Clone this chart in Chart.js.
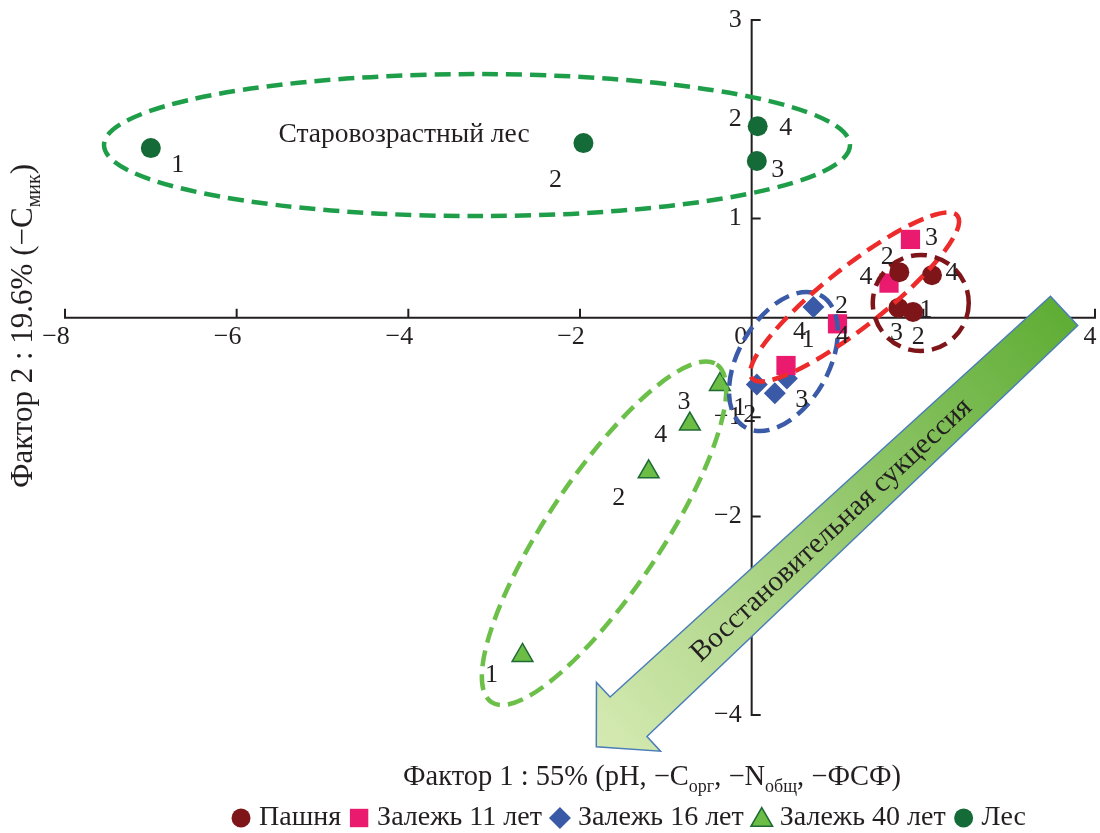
<!DOCTYPE html>
<html><head><meta charset="utf-8">
<script src="https://cdn.jsdelivr.net/npm/chart.js@4.4.0/dist/chart.umd.min.js"></script>
<style>html,body{margin:0;padding:0;background:#fff;overflow:hidden;}#wrap{position:relative;width:1100px;height:833px;}canvas{display:block;}</style>
</head><body><div id="wrap"><canvas id="c" width="1100" height="833"></canvas></div>
<script>
// ---------- DATA ----------
const seriesNames = ['Пашня', 'Залежь 11 лет', 'Залежь 16 лет', 'Залежь 40 лет', 'Лес'];
const pashnyaX = [1.88, 1.72, 1.71, 2.10];
const pashnyaY = [0.06, 0.46, 0.10, 0.43];
const zalezh11X = [0.40, 1.00, 1.85, 1.60];
const zalezh11Y = [-0.48, -0.06, 0.79, 0.35];
const zalezh16X = [0.06, 0.27, 0.41, 0.72];
const zalezh16Y = [-0.67, -0.76, -0.61, 0.11];
const zalezh40X = [-2.67, -1.20, -0.37, -0.72];
const zalezh40Y = [-3.40, -1.55, -0.67, -1.07];
const lesX = [-7.00, -1.96, 0.06, 0.07];
const lesY = [1.71, 1.76, 1.58, 1.93];
const pointLabels = ['1', '2', '3', '4'];
const extraLabel = '4';
const xTicks = [-8, -6, -4, -2, 0, 2, 4];
const yTicks = [3, 2, 1, 0, -1, -2, -3, -4];
const xTitleParts = [['Фактор 1 : 55% (pH, −C', 0], ['орг', 1], [', −N', 0], ['общ', 1], [', −ФСФ)', 0]];
const yTitleParts = [['Фактор 2 : 19.6% (−C', 0], ['мик', 1], [')', 0]];
const forestText = 'Старовозрастный лес';
const arrowText = 'Восстановительная сукцессия';

// ---------- STYLE ----------
const INK = '#231F20';
const FONT = '"Liberation Serif", "Times New Roman", serif';
const colors = ['#7E1518', '#EA1B6F', '#3A5AA8', '#6CBD45', '#156B37'];
const styles = ['circle', 'rect', 'rectRot', 'triangle', 'circle'];
const radii = [10, 13.6, 11, 12, 10];
const labelOffsets = [
  [[13, -2], [-12, -15], [-2, 25], [20, -2]],
  [[22, -25], [4, -18], [21, -1], [-23, -6]],
  [[-17, 24], [-25, 22], [15, 22], [-14, 25]],
  [[-31, 20], [-30, 26], [-36, 18], [-29, 11]],
  [[27, 17], [-28, 37], [21, 9], [28, 2]]
];
const extraLabelPos = {ds: 1, i: 1, dx: 5, dy: 12};
const ellipses = [
  {x: -3.20, y: 1.74, a: 373, b: 71, rot: 0, color: '#1F9E4A'},
  {x: -1.72, y: -2.17, a: 203, b: 57, rot: -56.3, color: '#6CC04A'},
  {x: 0.37, y: -0.44, a: 76, b: 45, rot: -60, color: '#3B5BA8'},
  {x: 1.20, y: 0.21, a: 131, b: 30, rot: -38.3, color: '#EE2B2B'},
  {x: 1.97, y: 0.15, a: 48, b: 48, rot: 0, color: '#7E1518'}
];
const arrow = {fromX: 3.64, fromY: 0.07, toX: -1.81, toY: -4.32, tailHalf: 20, neckHalf: 27, headHalf: 47, headLen: 44};

function pts(xs, ys) { return xs.map((v, i) => ({x: v, y: ys[i]})); }
const allX = [pashnyaX, zalezh11X, zalezh16X, zalezh40X, lesX];
const allY = [pashnyaY, zalezh11Y, zalezh16Y, zalezh40Y, lesY];

function fmt(v) { return v < 0 ? '−' + Math.abs(v) : String(v); }

function marker(ctx, style, x, y, r, fill, stroke, bw) {
  ctx.beginPath();
  if (style === 'circle') ctx.arc(x, y, r, 0, Math.PI * 2);
  else if (style === 'rect') { const h = r * Math.SQRT1_2; ctx.rect(x - h, y - h, 2 * h, 2 * h); }
  else if (style === 'rectRot') { ctx.moveTo(x - r, y); ctx.lineTo(x, y - r); ctx.lineTo(x + r, y); ctx.lineTo(x, y + r); ctx.closePath(); }
  else if (style === 'triangle') {
    for (let k = 0; k < 3; k++) { const a = k * 2 * Math.PI / 3; const px = x + Math.sin(a) * r, py = y - Math.cos(a) * r; k ? ctx.lineTo(px, py) : ctx.moveTo(px, py); }
    ctx.closePath();
  }
  ctx.fillStyle = fill; ctx.fill();
  if (bw) { ctx.lineWidth = bw; ctx.strokeStyle = stroke; ctx.stroke(); }
}

function drawParts(ctx, parts, x, y, size, align) {
  const sub = Math.round(size * 0.64);
  let w = 0;
  parts.forEach(p => { ctx.font = (p[1] ? sub : size) + 'px ' + FONT; w += ctx.measureText(p[0]).width; });
  let cx = align === 'center' ? x - w / 2 : x;
  ctx.textAlign = 'left'; ctx.textBaseline = 'alphabetic';
  parts.forEach(p => {
    ctx.font = (p[1] ? sub : size) + 'px ' + FONT;
    ctx.fillText(p[0], cx, y + (p[1] ? size * 0.25 : 0));
    cx += ctx.measureText(p[0]).width;
  });
}

const decor = {
  id: 'decor',
  beforeDatasetsDraw(chart) {
    const {ctx} = chart; const xs = chart.scales.x, ys = chart.scales.y;
    const x0 = xs.getPixelForValue(0), y0 = ys.getPixelForValue(0);
    ctx.save();
    ctx.strokeStyle = INK; ctx.lineWidth = 2; ctx.lineCap = 'square';
    ctx.beginPath();
    ctx.moveTo(xs.getPixelForValue(xTicks[0]), y0); ctx.lineTo(xs.getPixelForValue(xTicks[xTicks.length - 1]), y0);
    ctx.moveTo(x0, ys.getPixelForValue(yTicks[0])); ctx.lineTo(x0, ys.getPixelForValue(yTicks[yTicks.length - 1]));
    xTicks.forEach(v => { if (v === 0) return; const p = xs.getPixelForValue(v); ctx.moveTo(p, y0); ctx.lineTo(p, y0 - 8); });
    yTicks.forEach(v => { if (v === 0) return; const p = ys.getPixelForValue(v); ctx.moveTo(x0, p); ctx.lineTo(x0 + 8, p); });
    ctx.stroke();
    ctx.fillStyle = INK; ctx.font = '26px ' + FONT; ctx.textBaseline = 'middle';
    xTicks.forEach(v => {
      const p = xs.getPixelForValue(v);
      ctx.textAlign = 'center';
      ctx.fillText(fmt(v), v === 0 ? p - 11 : (v < 0 ? p - 9 : p - 5), y0 + 19);
    });
    ctx.textAlign = 'right';
    yTicks.forEach(v => { if (v === 0) return; ctx.fillText(fmt(v), x0 - 10, ys.getPixelForValue(v)); });
    drawParts(ctx, xTitleParts, 652, 785, 28.5, 'center');
    ctx.save(); ctx.translate(32, 326); ctx.rotate(-Math.PI / 2);
    drawParts(ctx, yTitleParts, 0, 0, 31, 'center');
    ctx.restore();
    ctx.restore();
  },
  afterDatasetsDraw(chart) {
    const {ctx} = chart; const xs = chart.scales.x, ys = chart.scales.y;
    ctx.save();
    ellipses.forEach(e => {
      ctx.beginPath();
      ctx.ellipse(xs.getPixelForValue(e.x), ys.getPixelForValue(e.y), e.a, e.b, e.rot * Math.PI / 180, 0, Math.PI * 2);
      ctx.setLineDash([16, 8]); ctx.lineWidth = 4.5; ctx.strokeStyle = e.color; ctx.lineCap = 'butt'; ctx.stroke();
    });
    ctx.setLineDash([]);
    const tx = xs.getPixelForValue(arrow.fromX), ty = ys.getPixelForValue(arrow.fromY);
    const hx = xs.getPixelForValue(arrow.toX), hy = ys.getPixelForValue(arrow.toY);
    const len = Math.hypot(hx - tx, hy - ty); const dx = (hx - tx) / len, dy = (hy - ty) / len;
    const nx = -dy, ny = dx;
    const kx = hx - dx * arrow.headLen, ky = hy - dy * arrow.headLen;
    ctx.beginPath();
    ctx.moveTo(tx + nx * arrow.tailHalf, ty + ny * arrow.tailHalf);
    ctx.lineTo(kx + nx * arrow.neckHalf, ky + ny * arrow.neckHalf);
    ctx.lineTo(kx + nx * arrow.headHalf, ky + ny * arrow.headHalf);
    ctx.lineTo(hx, hy);
    ctx.lineTo(kx - nx * arrow.headHalf, ky - ny * arrow.headHalf);
    ctx.lineTo(kx - nx * arrow.neckHalf, ky - ny * arrow.neckHalf);
    ctx.lineTo(tx - nx * arrow.tailHalf, ty - ny * arrow.tailHalf);
    ctx.closePath();
    const g = ctx.createLinearGradient(tx, ty, hx, hy);
    g.addColorStop(0, '#5FAD35'); g.addColorStop(1, '#D6EAB3');
    ctx.fillStyle = g; ctx.fill();
    ctx.lineWidth = 1.5; ctx.strokeStyle = '#4A7DB8'; ctx.lineJoin = 'miter'; ctx.stroke();
    ctx.save();
    ctx.translate((tx + hx) / 2 - nx * 2, (ty + hy) / 2 - ny * 2);
    ctx.rotate(Math.atan2(ty - hy, tx - hx));
    ctx.fillStyle = INK; ctx.font = '29px ' + FONT; ctx.textAlign = 'center'; ctx.textBaseline = 'middle';
    ctx.fillText(arrowText, 0, 0);
    ctx.restore();
    ctx.fillStyle = INK; ctx.font = '27.5px ' + FONT; ctx.textAlign = 'center'; ctx.textBaseline = 'middle';
    ctx.fillText(forestText, xs.getPixelForValue(-4.05), ys.getPixelForValue(1.84));
    ctx.font = '26px ' + FONT;
    chart.data.datasets.forEach((ds, di) => {
      const meta = chart.getDatasetMeta(di);
      meta.data.forEach((el, i) => {
        const o = labelOffsets[di][i];
        ctx.fillText(pointLabels[i], el.x + o[0], el.y + o[1]);
      });
    });
    const em = chart.getDatasetMeta(extraLabelPos.ds).data[extraLabelPos.i];
    ctx.fillText(extraLabel, em.x + extraLabelPos.dx, em.y + extraLabelPos.dy);
    // legend
    ctx.font = '28px ' + FONT;
    const mw = 20, g1 = 8, g2 = 8;
    let total = 0;
    seriesNames.forEach((n, i) => { total += mw + g1 + ctx.measureText(n).width + (i < seriesNames.length - 1 ? g2 : 0); });
    let lx = 628.5 - total / 2; const ly = 818;
    seriesNames.forEach((n, i) => {
      const ds = chart.data.datasets[i];
      const r = i === 1 ? 13 : (i === 3 ? 12.5 : (i === 2 ? 11 : 9.5));
      marker(ctx, ds.pointStyle, lx + mw / 2, ly + (i === 3 ? 2 : 0), r, ds.backgroundColor, ds.borderColor, ds.borderWidth);
      lx += mw + g1;
      ctx.fillStyle = INK; ctx.textAlign = 'left'; ctx.textBaseline = 'middle';
      ctx.fillText(n, lx, ly);
      lx += ctx.measureText(n).width + g2;
    });
    ctx.restore();
  }
};

const datasets = seriesNames.map((n, i) => ({
  label: n,
  data: pts(allX[i], allY[i]),
  pointStyle: styles[i],
  pointRadius: radii[i],
  pointHoverRadius: radii[i],
  backgroundColor: colors[i],
  borderColor: i === 3 ? '#1F6B35' : colors[i],
  borderWidth: i === 3 ? 1.5 : 0,
  showLine: false
}));

new Chart(document.getElementById('c'), {
  type: 'scatter',
  data: {datasets},
  options: {
    responsive: false,
    animation: false,
    devicePixelRatio: 1,
    layout: {autoPadding: false, padding: {left: 65, right: 5, top: 20, bottom: 118}},
    scales: {
      x: {type: 'linear', min: -8, max: 4, display: false},
      y: {type: 'linear', min: -4, max: 3, display: false}
    },
    plugins: {legend: {display: false}, tooltip: {enabled: false}},
    events: []
  },
  plugins: [decor]
});
</script></body></html>
